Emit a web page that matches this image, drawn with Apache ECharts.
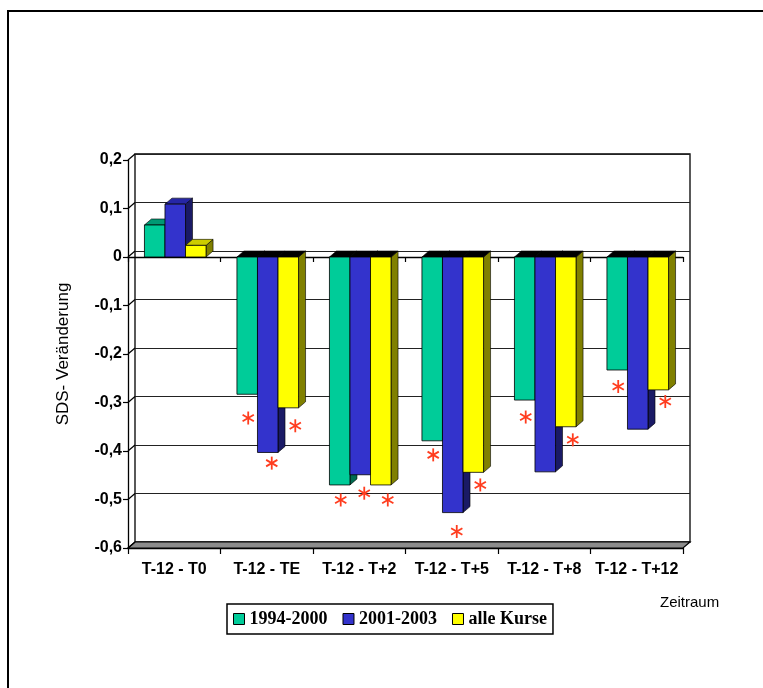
<!DOCTYPE html>
<html><head><meta charset="utf-8">
<script src="https://cdn.jsdelivr.net/npm/echarts@6/dist/echarts.min.js"></script>
<style>html,body{margin:0;padding:0;background:#fff}#c{width:763px;height:688px}</style>
</head><body><div id="c"></div>
<script>
const categories = ['T-12 - T0','T-12 - TE','T-12 - T+2','T-12 - T+5','T-12 - T+8','T-12 - T+12'];
const seriesNames = ['1994-2000','2001-2003','alle Kurse'];
const values1994 = [0.066,-0.283,-0.470,-0.379,-0.295,-0.233];
const values2001 = [0.109,-0.403,-0.449,-0.527,-0.443,-0.355];
const valuesAlle = [0.024,-0.311,-0.470,-0.444,-0.350,-0.274];
const star1994 = [null,-0.332,-0.501,-0.408,-0.330,-0.267];
const star2001 = [null,-0.425,-0.487,-0.566,null,null];
const starAlle = [null,-0.348,-0.501,-0.470,-0.377,-0.298];
const yTicks = [0.2,0.1,0,-0.1,-0.2,-0.3,-0.4,-0.5,-0.6];
const yMin = -0.6, yMax = 0.2, yStep = 0.1;
const yName = 'SDS- Veränderung';
const xName = 'Zeitraum';

const FRONT = ['#00CC99','#3333CC','#FFFF00'];
const SIDE = ['#006b50','#1a1a66','#808000'];
const TOP = ['#009973','#2626a6','#cccc00'];
const DX = 7, DY = 6;
const STAR_DX = [1,4,7];
const SANS = 'Arial, "Liberation Sans", sans-serif';

function barRender(si){
  return function(params, api){
    const cat = api.value(0), v = api.value(1);
    const band = api.size([1,0])[0];
    const bw = band*0.222;
    const c = api.coord([cat,0]);
    const y0 = c[1], yv = api.coord([cat,v])[1];
    const x = c[0] - 1.5*bw + si*bw + 1;
    const x2 = x + bw;
    const yHigh = Math.min(y0,yv), yLow = Math.max(y0,yv);
    const topColor = v >= 0 ? TOP[si] : '#000';
    return {type:'group', children:[
      {type:'polygon', shape:{points:[[x2,yHigh],[x2+DX,yHigh-DY],[x2+DX,yLow-DY],[x2,yLow]]}, style:{fill:SIDE[si], stroke:'#000', lineWidth:0.6}},
      {type:'polygon', shape:{points:[[x,yHigh],[x+DX,yHigh-DY],[x2+DX,yHigh-DY],[x2,yHigh]]}, style:{fill:topColor, stroke:'#000', lineWidth:0.6}},
      {type:'rect', shape:{x:x, y:yHigh, width:bw, height:yLow-yHigh}, style:{fill:FRONT[si], stroke:'#000', lineWidth:0.8}}
    ]};
  };
}

function starRender(params, api){
  const cat = api.value(0), v = api.value(1), si = api.value(2);
  const band = api.size([1,0])[0], bw = band*0.222;
  const c = api.coord([cat,v]);
  const cx = c[0] - 1.5*bw + si*bw + 1 + bw/2 + STAR_DX[si];
  const cy = c[1];
  const r = 6.5;
  const children = [90,30,150].map(a=>{
    const t = a*Math.PI/180;
    return {type:'line', shape:{x1:cx-r*Math.cos(t), y1:cy-r*Math.sin(t), x2:cx+r*Math.cos(t), y2:cy+r*Math.sin(t)}, style:{stroke:'#ff3d1f', lineWidth:1.8}};
  });
  return {type:'group', children};
}

function frameRender(params, api){
  const v = api.value(1);
  const cs = params.coordSys;
  const y = api.coord([0, v])[1];
  const x = cs.x;
  const ch = [{type:'line', shape:{x1:x,y1:y,x2:x+DX,y2:y-DY}, style:{stroke:'#000', lineWidth:1.2}}];
  if (Math.abs(v - yMin) < 1e-9) {
    ch.unshift({type:'polygon', shape:{points:[[x,y],[x+DX,y-DY],[x+cs.width+DX,y-DY],[x+cs.width,y]]}, style:{fill:'#8c8c8c', stroke:'#000', lineWidth:1.2}});
  }
  return {type:'group', children:ch};
}

const allValues = [values1994, values2001, valuesAlle];
const allStars = [star1994, star2001, starAlle];
const starData = [];
allStars.forEach((arr,si)=>arr.forEach((v,ci)=>{ if(v!==null) starData.push([ci, v, si]); }));

const fmt = v => Math.abs(v) < 1e-9 ? '0' : (Math.round(v*10)/10).toFixed(1).replace('.', ',');

const chart = echarts.init(document.getElementById('c'));
chart.setOption({
  animation:false,
  backgroundColor:'#fff',
  grid:[
    {left:128, right:80, top:160, bottom:140},
    {left:135, right:73, top:154, bottom:146, show:true, borderColor:'#000', borderWidth:1.3, backgroundColor:'transparent'}
  ],
  xAxis:[
    {type:'category', gridIndex:0, data:categories, position:'bottom',
     axisLine:{onZero:false, lineStyle:{color:'#000', width:1.3}},
     axisTick:{show:true, interval:0, length:6, alignWithLabel:false, lineStyle:{color:'#000', width:1.2}},
     axisLabel:{interval:0, margin:14, fontFamily:SANS, fontWeight:'bold', fontSize:16, color:'#000'},
     splitLine:{show:false}},
    {type:'category', gridIndex:0, data:categories, position:'bottom',
     axisLine:{onZero:true, onZeroAxisIndex:0, lineStyle:{color:'#000', width:1.3}},
     axisTick:{show:true, interval:0, length:5, alignWithLabel:false, lineStyle:{color:'#000', width:1.2}},
     axisLabel:{show:false}, splitLine:{show:false}},
    {type:'category', gridIndex:1, data:categories, show:false}
  ],
  yAxis:[
    {type:'value', gridIndex:0, min:yMin, max:yMax, interval:yStep,
     name:yName, nameLocation:'middle', nameRotate:90, nameGap:56,
     nameTextStyle:{fontFamily:SANS, fontSize:17, color:'#000'},
     axisLine:{show:true, lineStyle:{color:'#000', width:1.3}},
     axisTick:{show:true, length:5, lineStyle:{color:'#000', width:1.2}},
     axisLabel:{formatter:fmt, margin:6, fontFamily:SANS, fontWeight:'bold', fontSize:16, color:'#000'},
     splitLine:{show:false}},
    {type:'value', gridIndex:1, min:yMin, max:yMax, interval:yStep,
     axisLine:{show:false}, axisTick:{show:false}, axisLabel:{show:false},
     splitLine:{show:true, lineStyle:{color:'#222', width:1.2}}}
  ],
  legend:{
    data: seriesNames.map((n,i)=>({name:n, icon:'rect', itemStyle:{color:FRONT[i], borderColor:'#000', borderWidth:1}})),
    left:227, top:604, orient:'horizontal', itemWidth:11, itemHeight:11, itemGap:15,
    padding:[6,6,6,6], borderColor:'#000', borderWidth:1.5, backgroundColor:'#fff',
    selectedMode:false,
    textStyle:{fontFamily:'"Liberation Serif","Times New Roman",serif', fontWeight:'bold', fontSize:18, color:'#000'}
  },
  graphic:[
    {type:'rect', shape:{x:8, y:11, width:900, height:900}, style:{fill:'none', stroke:'#000', lineWidth:2}, z:-1},
    {type:'text', left:660, top:595, style:{text:xName, font:'15px ' + SANS, fill:'#000'}}
  ],
  series:[
    {type:'custom', name:'frame', xAxisIndex:0, yAxisIndex:0, z:1, silent:true,
     renderItem:frameRender, data:yTicks.map(v=>[0,v]), clip:false},
    ...allValues.map((vals,si)=>({
      type:'custom', name:seriesNames[si], xAxisIndex:0, yAxisIndex:0, z:3+si,
      itemStyle:{color:FRONT[si]},
      renderItem:barRender(si), data:vals.map((v,ci)=>[ci,v]), clip:false
    })),
    {type:'custom', name:'stars', xAxisIndex:0, yAxisIndex:0, z:10, silent:true,
     renderItem:starRender, data:starData, clip:false}
  ]
});
</script>
</body></html>
